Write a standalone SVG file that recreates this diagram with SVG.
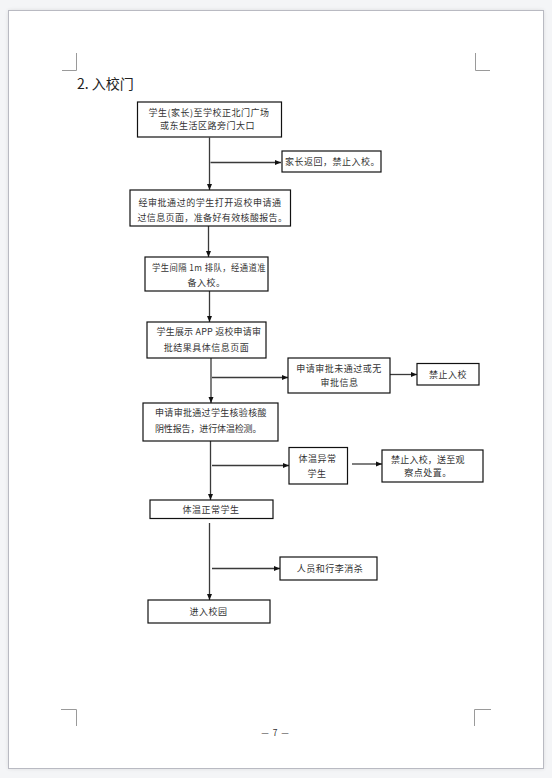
<svg xmlns="http://www.w3.org/2000/svg" width="552" height="778" viewBox="0 0 552 778">
<defs>
<marker id="ah" markerWidth="6" markerHeight="6" refX="6" refY="3" orient="auto" markerUnits="userSpaceOnUse">
<path d="M0,0.5 L6,3 L0,5.5 Z" fill="#111"/>
</marker>
<filter id="sh" x="-5%" y="-5%" width="110%" height="110%">
<feGaussianBlur stdDeviation="2"/>
</filter>
</defs>
<style>
.box{fill:#fff;stroke:#111;stroke-width:1.2}
.t{font-family:"Noto Sans CJK SC","Noto Sans",sans-serif;font-size:9px;fill:#333;text-anchor:middle;letter-spacing:0.5px}
.c{stroke:#3a3a3a;stroke-width:1.3;fill:none;marker-end:url(#ah)}
.cm{stroke:#9a9a9a;stroke-width:1;fill:none}
</style>
<rect x="0" y="0" width="552" height="778" fill="#f4f5f7"/>
<rect x="8.5" y="10.5" width="535" height="758" fill="#000" opacity="0.12" filter="url(#sh)"/>
<rect x="8.5" y="10.5" width="535" height="758" fill="#fff" stroke="#b9bac2" stroke-width="1"/>
<g id="cornermarks">
<path class="cm" d="M76.5,53 V70.5 H62"/>
<path class="cm" d="M475.5,53 V70.5 H490"/>
<path class="cm" d="M61,709.5 H76.5 V726"/>
<path class="cm" d="M491,709.5 H474.5 V726"/>
</g>
<text x="77" y="89" font-family="'Noto Sans CJK SC','Noto Sans',sans-serif" font-size="14" fill="#222">2. 入校门</text>
<text x="275.5" y="736" font-family="'Noto Sans CJK SC','Liberation Sans',sans-serif" font-size="8.5" fill="#333" text-anchor="middle" letter-spacing="1">— 7 —</text>

<g id="connectors">
<path class="c" d="M209.5,137.5 V190"/>
<path class="c" d="M210.5,162.5 H281"/>
<path class="c" d="M208.5,226 V257"/>
<path class="c" d="M209.5,291 V322"/>
<path class="c" d="M211,358 V403"/>
<path class="c" d="M212,377.5 H288"/>
<path class="c" d="M390,374.5 H417"/>
<path class="c" d="M210.5,441 V500"/>
<path class="c" d="M212,465.5 H289"/>
<path class="c" d="M352,464 H382"/>
<path class="c" d="M209.5,523 V600"/>
<path class="c" d="M212,568.5 H280"/>
</g>

<g id="n1"><rect class="box" x="137.5" y="102" width="144" height="35"/>
<text class="t" x="209" y="116">学生(家长)至学校正北门广场</text>
<text class="t" x="207.5" y="129">或东生活区路旁门大口</text></g>

<g id="n2"><rect class="box" x="282" y="151" width="99" height="21"/>
<text class="t" x="332.5" y="165">家长返回，禁止入校。</text></g>

<g id="n3"><rect class="box" x="130" y="190" width="160.5" height="36"/>
<text class="t" x="210" y="205.5" textLength="143" lengthAdjust="spacing">经审批通过的学生打开返校申请通</text>
<text class="t" x="212.5" y="221" textLength="150" lengthAdjust="spacing">过信息页面，准备好有效核酸报告。</text></g>

<g id="n4"><rect class="box" x="145" y="257" width="123" height="34"/>
<text class="t" x="209" y="271" textLength="114" lengthAdjust="spacingAndGlyphs">学生间隔 1m 排队，经通道准</text>
<text class="t" x="206.5" y="286">备入校。</text></g>

<g id="n5"><rect class="box" x="147" y="322" width="119" height="36"/>
<text class="t" x="209" y="335" textLength="105" lengthAdjust="spacing">学生展示 APP 返校申请审</text>
<text class="t" x="206.5" y="351">批结果具体信息页面</text></g>

<g id="n6"><rect class="box" x="288" y="358" width="102" height="35"/>
<text class="t" x="339" y="371.5">申请审批未通过或无</text>
<text class="t" x="339.5" y="386">审批信息</text></g>

<g id="n7"><rect class="box" x="417" y="363.5" width="62" height="21.5"/>
<text class="t" x="448" y="377.5">禁止入校</text></g>

<g id="n8"><rect class="box" x="143" y="403" width="135" height="38"/>
<text class="t" x="211" y="415.5" textLength="112" lengthAdjust="spacing">申请审批通过学生核验核酸</text>
<text class="t" x="208.5" y="431.5" textLength="107" lengthAdjust="spacing">阴性报告，进行体温检测。</text></g>

<g id="n9"><rect class="box" x="289" y="447.5" width="58.5" height="36.5"/>
<text class="t" x="317.5" y="462">体温异常</text>
<text class="t" x="317" y="477">学生</text></g>

<g id="n10"><rect class="box" x="382" y="450" width="101" height="32"/>
<text class="t" x="428" y="463" textLength="74" lengthAdjust="spacing">禁止入校，送至观</text>
<text class="t" x="428" y="476">察点处置。</text></g>

<g id="n11"><rect class="box" x="150" y="500" width="123" height="18.5"/>
<text class="t" x="211" y="513">体温正常学生</text></g>

<g id="n12"><rect class="box" x="280" y="557" width="97" height="23"/>
<text class="t" x="330" y="571.5">人员和行李消杀</text></g>

<g id="n13"><rect class="box" x="148" y="600" width="122" height="23"/>
<text class="t" x="208.5" y="615">进入校园</text></g>
</svg>
